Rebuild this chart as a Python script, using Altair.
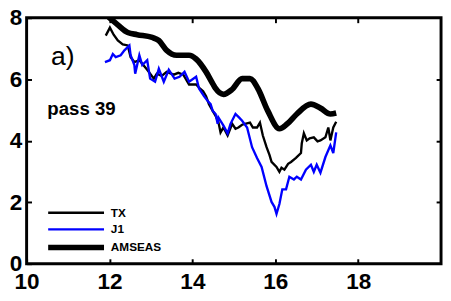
import altair as alt
import pandas as pd

series_names = ["TX", "J1", "AMSEAS"]
series_colors = ["#000000", "#0000ff", "#000000"]
series_widths = [2.4, 2.4, 5.8]

tx_x = [11.91, 12.01, 12.10, 12.20, 12.32, 12.44, 12.51, 12.60, 12.72, 12.91, 13.07, 13.14, 13.26, 13.38, 13.55,
        13.66, 13.78, 13.92, 14.09, 14.18, 14.26, 14.33, 14.40, 14.49, 14.56, 14.63, 14.68, 14.75, 14.85, 14.96,
        15.04, 15.11, 15.20, 15.27, 15.39, 15.46, 15.56, 15.63, 15.70, 15.79, 15.86, 15.91, 16.03, 16.10, 16.15,
        16.22, 16.31, 16.38, 16.50, 16.62, 16.64, 16.69, 16.76, 16.83, 16.93, 17.02, 17.09, 17.21, 17.28, 17.33,
        17.40, 17.47]
tx_y = [7.42, 7.68, 7.45, 7.26, 7.13, 7.10, 6.72, 6.56, 6.62, 6.31, 6.02, 6.18, 6.11, 6.24, 6.15,
        6.21, 6.15, 5.83, 5.83, 5.70, 5.61, 5.45, 5.19, 4.97, 4.81, 4.59, 4.27, 4.43, 4.17, 4.55,
        4.39, 4.43, 4.52, 4.55, 4.59, 4.43, 4.43, 4.59, 4.17, 3.79, 3.54, 3.31, 3.15, 2.99, 3.12,
        3.06, 3.25, 3.31, 3.44, 3.60, 3.92, 4.24, 4.01, 4.08, 4.11, 3.98, 4.01, 4.11, 4.43, 4.01,
        4.43, 4.62]

j1_x = [11.89, 12.01, 12.08, 12.15, 12.27, 12.36, 12.48, 12.51, 12.60, 12.62, 12.72, 12.79, 12.91, 12.98, 13.10,
        13.19, 13.31, 13.43, 13.57, 13.69, 13.81, 13.92, 14.09, 14.16, 14.28, 14.37, 14.44, 14.49, 14.56, 14.61,
        14.63, 14.75, 14.85, 14.92, 15.04, 15.13, 15.20, 15.32, 15.44, 15.56, 15.67, 15.79, 15.91, 15.98, 16.03,
        16.10, 16.17, 16.26, 16.34, 16.45, 16.52, 16.62, 16.74, 16.86, 16.93, 17.00, 17.09, 17.21, 17.33, 17.40,
        17.47]
j1_y = [6.56, 6.62, 6.82, 6.72, 6.78, 6.94, 7.10, 6.78, 6.46, 6.18, 6.78, 6.46, 6.62, 6.02, 5.92,
        6.34, 5.92, 6.31, 6.02, 6.08, 6.24, 5.92, 6.08, 5.70, 5.45, 5.29, 5.19, 4.97, 4.87, 4.55,
        4.75, 4.49, 4.24, 4.55, 4.87, 4.75, 4.65, 4.43, 3.79, 3.44, 3.15, 2.52, 2.01, 1.85, 1.62,
        1.94, 2.42, 2.42, 2.83, 2.74, 2.83, 2.74, 3.06, 3.22, 2.99, 3.22, 2.96, 3.47, 3.85, 3.60,
        4.27]

am_x = [11.98, 12.20, 12.44, 12.67, 13.03, 13.19, 13.38, 13.62, 13.92, 14.09, 14.33, 14.49, 14.56, 14.75,
        14.96, 15.20, 15.39, 15.58, 15.82, 16.10, 16.29, 16.52, 16.86, 17.09, 17.33, 17.47]
am_y = [8.02, 7.77, 7.52, 7.45, 7.36, 7.26, 6.94, 6.78, 6.78, 6.66, 6.24, 5.86, 5.70, 5.51,
        5.67, 6.02, 6.02, 5.70, 4.97, 4.39, 4.55, 4.87, 5.19, 5.06, 4.87, 4.90]

x_ticks = [10, 12, 14, 16, 18]
y_ticks = [0, 2, 4, 6, 8]
x_inner_ticks = [12, 14, 16, 18]
y_inner_ticks = [2, 4, 6]

label_text = ["a)"]
label_x = [10.59]
label_y = [6.73]
pass_text = ["pass 39"]
pass_x = [10.50]
pass_y = [5.04]

rows = []
for name, xs, ys in [("TX", tx_x, tx_y), ("J1", j1_x, j1_y), ("AMSEAS", am_x, am_y)]:
    for xv, yv in zip(xs, ys):
        rows.append({"series": name, "x": xv, "y": yv})
df = pd.DataFrame(rows)

FONT = "Liberation Sans"
x_scale = alt.Scale(domain=[10, 20], nice=False, zero=False)
y_scale = alt.Scale(domain=[0, 8], nice=False, zero=False)
color_scale = alt.Scale(type="ordinal", domain=series_names, range=series_colors)
width_scale = alt.Scale(type="ordinal", domain=series_names, range=series_widths)

legend = alt.Legend(title=None, orient="none", legendX=38, legendY=188, symbolType="M-3,0H3",
                    symbolSize=361, labelFont=FONT, labelFontSize=12, labelFontWeight="bold",
                    labelColor="black", labelOffset=23, padding=0, rowPadding=0)

common_axis = dict(offset=-5, tickSize=5, tickWidth=2, tickColor="black", domain=False, grid=False,
                   title=None, labelFont=FONT, labelFontSize=23, labelFontWeight="bold",
                   labelColor="black", labelFlush=False, labelOverlap=False, format="d")

x_axis = alt.Axis(orient="bottom", values=x_ticks, labelPadding=7, **common_axis)
y_axis = alt.Axis(orient="left", values=y_ticks, labelPadding=5, **common_axis)
top_axis = alt.Axis(orient="top", values=x_inner_ticks, labels=False, offset=-5, tickSize=5, tickWidth=2,
                    tickColor="black", domain=False, grid=False, title=None)
right_axis = alt.Axis(orient="right", values=y_inner_ticks, labels=False, offset=-5, tickSize=5, tickWidth=2,
                      tickColor="black", domain=False, grid=False, title=None)

enc = dict(
    color=alt.Color("series:N", scale=color_scale, legend=legend),
    strokeWidth=alt.StrokeWidth("series:N", scale=width_scale, legend=legend),
    detail="series:N",
)

thin = alt.Chart(df).transform_filter(alt.FieldOneOfPredicate(field="series", oneOf=["TX", "J1"])).mark_line(
    clip=True).encode(
    x=alt.X("x:Q", scale=x_scale, axis=x_axis),
    y=alt.Y("y:Q", scale=y_scale, axis=y_axis),
    **enc,
)
thick = alt.Chart(df).transform_filter(alt.FieldEqualPredicate(field="series", equal="AMSEAS")).mark_line(
    clip=True, interpolate="monotone").encode(
    x=alt.X("x:Q", scale=x_scale, axis=None),
    y=alt.Y("y:Q", scale=y_scale, axis=None),
    **enc,
)

lab_df = pd.DataFrame({"t": label_text, "x": label_x, "y": label_y})
pass_df = pd.DataFrame({"t": pass_text, "x": pass_x, "y": pass_y})

lab = alt.Chart(lab_df).mark_text(align="left", baseline="middle", font=FONT, fontSize=27,
                                  color="black").encode(
    x=alt.X("x:Q", scale=x_scale, axis=top_axis),
    y=alt.Y("y:Q", scale=y_scale, axis=right_axis),
    text="t:N",
)
pas = alt.Chart(pass_df).mark_text(align="left", baseline="middle", font=FONT, fontSize=19,
                                   fontWeight="bold", color="black").encode(
    x=alt.X("x:Q", scale=x_scale, axis=None),
    y=alt.Y("y:Q", scale=y_scale, axis=None),
    text="t:N",
)

chart = alt.layer(thin, thick, lab, pas).resolve_axis(x="independent", y="independent").properties(
    width=423, height=251,
    autosize=alt.AutoSizeParams(type="none"),
    padding={"left": 19, "top": 7, "right": 2, "bottom": 30},
).configure(background="white").configure_view(stroke="black", strokeWidth=3)

chart.save("out.html", embed_options={"renderer": "svg", "actions": False})
